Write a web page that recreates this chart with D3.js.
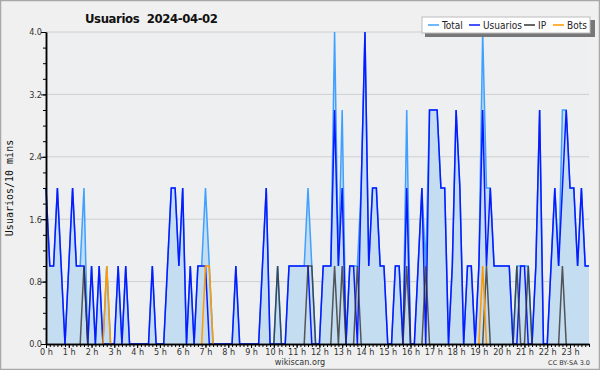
<!DOCTYPE html>
<html>
<head>
<meta charset="utf-8">
<script src="https://cdn.jsdelivr.net/npm/d3@7"></script>
<style>
body { margin: 0; background: #f0f0f0; }
svg { display: block; font-family: "DejaVu Sans", sans-serif; }
</style>
</head>
<body>
<div id="chart"></div>
<script>
// values per 10 minutes, 144 slots (0h .. 23h50)
var usuarios = [2,1,1,2,1,0,1,2,1,1, 1,0,1,0,1,0,0,0,0,1, 0,1,0,0,0,0,0,0,1,0,
    0,0,1,2,2,1,2,0,1,0, 1,1,1,0,0,0,0,0,0,0, 1,0,0,0,0,0,0,1,2,0,
    0,0,0,0,1,1,1,1,1,1, 0,0,0,1,1,1,3,1,2,0, 1,1,0,2,4,1,2,2,1,1,
    0,0,1,1,0,2,0,0,1,2, 0,3,3,3,2,2,0,1,3,2, 0,1,1,0,1,3,1,2,1,1,
    1,1,1,0,0,1,1,0,0,1, 3,0,0,1,2,1,2,3,2,2, 1,2,1,1];
var total = [2,1,1,2,1,0,1,2,1,1, 2,0,1,0,1,0,1,0,0,1, 0,1,0,0,0,0,0,0,1,0,
    0,0,1,2,2,1,2,0,1,0, 1,1,2,1,0,0,0,0,0,0, 1,0,0,0,0,0,0,1,2,0,
    0,1,0,0,1,1,1,1,1,2, 1,0,0,1,1,1,4,1,3,0, 1,1,1,2,4,1,2,2,1,1,
    0,0,1,1,0,3,0,0,1,2, 1,3,3,3,2,2,0,1,3,2, 0,1,1,0,1,4,2,2,1,1,
    1,1,1,0,1,1,1,1,0,1, 3,0,0,1,2,1,3,3,2,2, 1,2,1,1];
var ip = [0,0,0,0,0,0,0,0,0,0, 1,0,0,0,0,0,0,0,0,0, 0,0,0,0,0,0,0,0,0,0,
    0,0,0,0,0,0,0,0,0,0, 0,0,0,0,0,0,0,0,0,0, 0,0,0,0,0,0,0,0,0,0,
    0,1,0,0,0,0,0,0,0,1, 1,0,0,0,0,0,1,0,1,0, 0,0,1,0,0,0,0,0,0,0,
    0,0,0,0,0,1,0,0,0,0, 1,0,0,0,0,0,0,0,0,0, 0,0,0,0,0,0,1,0,0,0,
    0,0,0,0,1,0,0,1,0,0, 0,0,0,0,0,0,1,0,0,0, 0,0,0,0];
var bots = [0,0,0,0,0,0,0,0,0,0, 0,0,0,0,0,0,1,0,0,0, 0,0,0,0,0,0,0,0,0,0,
    0,0,0,0,0,0,0,0,0,0, 0,0,1,1,0,0,0,0,0,0, 0,0,0,0,0,0,0,0,0,0,
    0,0,0,0,0,0,0,0,0,0, 0,0,0,0,0,0,0,0,0,0, 0,0,0,0,0,0,0,0,0,0,
    0,0,0,0,0,0,0,0,0,0, 0,0,0,0,0,0,0,0,0,0, 0,0,0,0,0,1,0,0,0,0,
    0,0,0,0,0,0,0,0,0,0, 0,0,0,0,0,0,0,0,0,0, 0,0,0,0];
var yTicks = [0, 0.8, 1.6, 2.4, 3.2, 4.0];
var hours = d3.range(0, 24);

var width = 600, height = 370;
var margin = {top: 32, right: 11, bottom: 26, left: 46};

var svg = d3.select("#chart").append("svg")
    .attr("width", width)
    .attr("height", height);

// fond + cadre
svg.append("rect")
    .attr("x", 0.5).attr("y", 0.5)
    .attr("width", width - 1).attr("height", height - 1)
    .attr("fill", "#f0f0f0")
    .attr("stroke", "#a8a8a8")
    .attr("stroke-width", 1.5);

var x = d3.scaleLinear()
    .domain([0, 143])
    .range([margin.left, width - margin.right]);

var y = d3.scaleLinear()
    .domain([0, 4])
    .range([height - margin.bottom, margin.top]);

svg.append("rect")
    .attr("x", x(0)).attr("y", y(4))
    .attr("width", x(143) - x(0)).attr("height", y(0) - y(4))
    .attr("fill", "#edeff1");

// grille
svg.append("g")
    .selectAll("line")
    .data(yTicks.slice(1))
    .join("line")
    .attr("x1", x(0)).attr("x2", x(143))
    .attr("y1", d => y(d)).attr("y2", d => y(d))
    .attr("stroke", "#cfcfcf")
    .attr("stroke-width", 1);

var area = d3.area()
    .x((d, i) => x(i))
    .y0(y(0))
    .y1(d => y(d));

var line = d3.line()
    .x((d, i) => x(i))
    .y(d => y(d));

svg.append("path")
    .attr("d", area(total))
    .attr("fill", "#c5ddf0");

var series = [
    {name: "Total", values: total, color: "#3fa0ff", op: 1},
    {name: "Usuarios", values: usuarios, color: "#0a1aff", op: 1},
    {name: "IP", values: ip, color: "#333333", op: 0.8},
    {name: "Bots", values: bots, color: "#ff9900", op: 1}
];

// chaque série, IP et bots seulement là où ils sont non nuls
series.forEach(function(s) {
    svg.append("path")
        .attr("d", line.defined((d, i) => s.name == "Total" || s.name == "Usuarios" ||
            d > 0 || (s.values[i - 1] || 0) > 0 || (s.values[i + 1] || 0) > 0)(s.values))
        .attr("fill", "none")
        .attr("stroke", s.color)
        .attr("stroke-opacity", s.op)
        .attr("stroke-width", 1.5);
});

// axes
var yAxis = svg.append("g")
    .attr("transform", `translate(${x(0)},0)`)
    .call(d3.axisLeft(y).tickValues(yTicks).tickFormat(d3.format(".1f")).tickSize(5).tickSizeOuter(0));
svg.append("g")
    .attr("transform", `translate(${x(0)},0)`)
    .call(d3.axisLeft(y).tickValues(d3.range(0, 4.01, 0.2)).tickFormat("").tickSize(3).tickSizeOuter(0));

svg.append("g")
    .attr("transform", `translate(0,${y(0)})`)
    .call(d3.axisBottom(x).tickValues(d3.range(0, 144)).tickFormat("").tickSize(3).tickSizeOuter(0));
var xAxis = svg.append("g")
    .attr("transform", `translate(0,${y(0)})`)
    .call(d3.axisBottom(x).tickValues(hours.map(h => h * 6)).tickFormat(d => (d / 6) + " h").tickSize(4).tickSizeOuter(0));

svg.selectAll(".domain").attr("stroke", "#000").attr("stroke-width", 1.5);
svg.selectAll(".tick line").attr("stroke", "#000");
svg.selectAll(".tick text")
    .attr("fill", "#333")
    .style("font-size", "9px")
    .style("font-family", "DejaVu Sans Condensed, DejaVu Sans, sans-serif");
yAxis.selectAll(".tick text").attr("x", -4);
xAxis.selectAll(".tick text").attr("y", 5);

// titres
svg.append("text")
    .attr("x", 85).attr("y", 23)
    .attr("font-size", "13px")
    .attr("font-weight", "bold")
    .attr("fill", "#111")
    .attr("font-family", "DejaVu Sans Condensed, DejaVu Sans, sans-serif")
    .attr("xml:space", "preserve")
    .attr("textLength", 133)
    .text("Usuarios  2024-04-02");

svg.append("text")
    .attr("transform", `translate(13,${(y(0) + y(4)) / 2}) rotate(-90)`)
    .attr("text-anchor", "middle")
    .attr("font-size", "10px")
    .attr("fill", "#111")
    .attr("font-family", "DejaVu Sans Mono, monospace")
    .text("Usuarios/10 mins");

svg.append("text")
    .attr("x", 300).attr("y", 365)
    .attr("text-anchor", "middle")
    .attr("font-size", "9px")
    .attr("fill", "#333")
    .attr("font-family", "DejaVu Sans Condensed, DejaVu Sans, sans-serif")
    .text("wikiscan.org");

svg.append("text")
    .attr("x", 590).attr("y", 365)
    .attr("text-anchor", "end")
    .attr("font-size", "6.5px")
    .attr("fill", "#333")
    .text("CC BY-SA 3.0");

// légende
var legendX = [6, 47, 102, 131];
var lg = svg.append("g").attr("transform", "translate(422,17)");
lg.append("rect")
    .attr("x", 3).attr("y", 3).attr("width", 170).attr("height", 17)
    .attr("fill", "#777");
lg.append("rect")
    .attr("x", 0).attr("y", 0).attr("width", 168).attr("height", 16)
    .attr("fill", "#fff")
    .attr("stroke", "#bbb");
series.forEach(function(s, i) {
    var lx = legendX[i];
    lg.append("line")
        .attr("x1", lx).attr("x2", lx + 11)
        .attr("y1", 8).attr("y2", 8)
        .attr("stroke", s.color)
        .attr("stroke-width", 1.5);
    lg.append("text")
        .attr("x", lx + 14).attr("y", 12)
        .attr("font-size", "10px")
        .attr("fill", "#222")
        .attr("font-family", "DejaVu Sans Condensed, DejaVu Sans, sans-serif")
        .text(s.name);
});
</script>
</body>
</html>
